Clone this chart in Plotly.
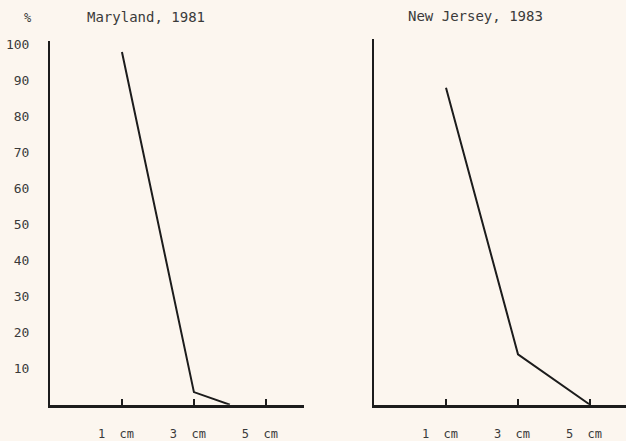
import plotly.graph_objects as go

W, H = 626, 441

# data
md_size_cm = [1, 3, 4]
md_percent = [98, 3.5, 0]
nj_size_cm = [1, 3, 5]
nj_percent = [88, 14, 0]

x_tickvals = [1, 3, 5]
x_ticktext = ["1  cm", "3  cm", "5  cm"]
y_tickvals = [10, 20, 30, 40, 50, 60, 70, 80, 90, 100]
y_ticktext = [str(v) for v in y_tickvals]

titles = ["Maryland, 1981", "New Jersey, 1983"]

FONT = "DejaVu Sans Mono"
INK = "#1c1c1c"
TXT = "#3a3a3a"
BG = "#fcf6ef"

fig = go.Figure()
fig.add_trace(go.Scatter(x=md_size_cm, y=md_percent, mode="lines",
                         line=dict(color=INK, width=2), xaxis="x", yaxis="y",
                         showlegend=False, hoverinfo="skip"))
fig.add_trace(go.Scatter(x=nj_size_cm, y=nj_percent, mode="lines",
                         line=dict(color=INK, width=2), xaxis="x2", yaxis="y2",
                         showlegend=False, hoverinfo="skip"))

ybot = (H - 410) / H
ytop = (H - 38) / H

xcommon = dict(range=[-1, 6.06], showline=True, linecolor=INK, linewidth=2.5,
               showgrid=False, zeroline=False, tickvals=x_tickvals,
               ticktext=x_ticktext, ticks="inside", ticklen=6, tickwidth=2,
               tickcolor=INK, ticklabelstandoff=16, ticklabelshift=-6,
               tickfont=dict(family=FONT, size=12, color=TXT), fixedrange=True)

fig.update_layout(
    width=W, height=H, margin=dict(l=0, r=0, t=0, b=0),
    paper_bgcolor=BG, plot_bgcolor=BG,
    xaxis=dict(domain=[50 / W, 304 / W], anchor="y", **xcommon),
    xaxis2=dict(domain=[374 / W, 1.0], anchor="y2",
                **{**xcommon, "range": [-1, 6.0]}),
    yaxis=dict(domain=[ybot, ytop], range=[0, 101], anchor="x", showline=True,
               linecolor=INK, linewidth=2, showgrid=False, zeroline=False,
               tickvals=y_tickvals, ticktext=y_ticktext, ticks="",
               ticklabelstandoff=16,
               tickfont=dict(family=FONT, size=13, color=TXT), fixedrange=True),
    yaxis2=dict(domain=[ybot, (H - 36) / H], range=[0, 101.5], anchor="x2",
                showline=True, linecolor=INK, linewidth=2, showgrid=False,
                zeroline=False, showticklabels=False, ticks="", fixedrange=True),
)

fig.add_annotation(x=28 / W, y=1 - 14.5 / H, xref="paper", yref="paper",
                   xanchor="center", yanchor="middle",
                   text="%", showarrow=False,
                   font=dict(family=FONT, size=12, color=TXT))
fig.add_annotation(x=146 / W, y=1 - 13.5 / H, xref="paper", yref="paper",
                   xanchor="center", yanchor="middle",
                   text=titles[0], showarrow=False,
                   font=dict(family=FONT, size=14, color=TXT))
fig.add_annotation(x=475 / W, y=1 - 12.5 / H, xref="paper", yref="paper",
                   xanchor="center", yanchor="middle",
                   text=titles[1], showarrow=False,
                   font=dict(family=FONT, size=14, color=TXT))

fig.write_html(
    "out.html",
    config={"displayModeBar": False},
    post_script="document.documentElement.style.margin='0';"
                "document.body.style.margin='0';"
                "document.body.style.padding='0';"
                "document.body.style.overflow='hidden';",
)
